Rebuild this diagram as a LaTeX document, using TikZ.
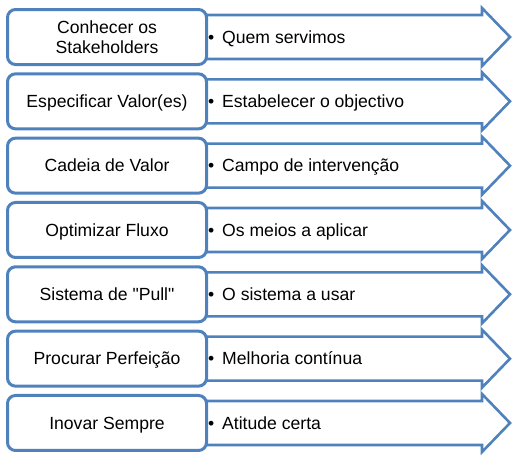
\documentclass[tikz,border=0pt]{standalone}
\usepackage{fontspec}
\newfontfamily\lib{Liberation Sans}
\definecolor{acc}{HTML}{4F81BD}
\tikzset{
  lbox/.style={draw=acc,line width=3pt,fill=white,rounded corners=8pt,minimum width=199pt,minimum height=55pt,inner sep=0pt},
  ltext/.style={inner sep=0pt,align=center,font=\lib\fontsize{17.6}{20}\selectfont},
  one/.style={text height=12.6pt,text depth=0pt},
  two/.style={},
  rtext/.style={anchor=base west,inner sep=0pt,font=\lib\fontsize{17.6}{20}\selectfont},
  arr/.style={draw=acc,line width=2.6pt,fill=white,line join=miter}
}
\begin{document}
\begin{tikzpicture}[x=1pt,y=-1pt]
\useasboundingbox (0,0) rectangle (513,471);
\foreach \i/\st/\l/\r in {
  0/two/{Conhecer os\\Stakeholders}/{Quem servimos},
  1/one/{Especificar Valor(es)}/{Estabelecer o objectivo},
  2/one/{Cadeia de Valor}/{Campo de intervenção},
  3/one/{Optimizar Fluxo}/{Os meios a aplicar},
  4/one/{Sistema de "Pull"}/{O sistema a usar},
  5/one/{Procurar Perfeição}/{Melhoria contínua},
  6/one/{Inovar Sempre}/{Atitude certa}}{
  \pgfmathsetmacro\c{37+64.33*\i}
  \draw[arr] (190,\c-22) -- (482,\c-22) -- (482,\c-29) -- (510,\c) -- (482,\c+29) -- (482,\c+22) -- (190,\c+22) -- cycle;
  \node[lbox] (L\i) at (107,\c) {};
  \node[ltext,\st] (T\i) at (L\i.center) {\l};
  \node[rtext] (B\i) at (208,\c+6.3) {•};
  \node[rtext] (R\i) at (222,\c+6.3) {\r};
}
\end{tikzpicture}
\end{document}
